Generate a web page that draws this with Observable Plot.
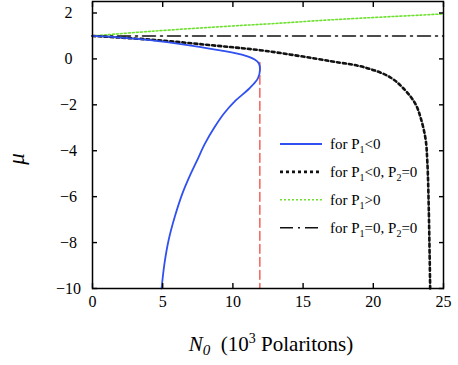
<!DOCTYPE html>
<html><head><meta charset="utf-8">
<script src="https://cdn.jsdelivr.net/npm/d3@7"></script>
<script src="https://cdn.jsdelivr.net/npm/@observablehq/plot@0.6"></script>
<style>
html,body{margin:0;padding:0;background:#fff;}
#chart{position:relative;width:458px;height:365px;}
#chart svg text{font-family:'Liberation Serif','Times New Roman',serif;}
</style></head>
<body><div id="chart"></div>
<script>
// ---- data ----
const xTicks = [0, 5, 10, 15, 20, 25];
const yTicks = [2, 0, -2, -4, -6, -8, -10];

// for P1<0 (solid blue), ordered along the curve
const blueN  = [0, 2.0, 4.13, 6.9, 9.2, 10.87, 11.55, 11.85, 11.93, 11.78, 11.15, 10.2, 9.35, 8.7, 8.0, 7.45, 7.0, 6.40, 5.86, 5.42, 5.13, 4.92];
const blueMu = [1, 0.93, 0.82, 0.59, 0.36, 0.14, -0.03, -0.2, -0.45, -0.85, -1.30, -1.81, -2.39, -2.97, -3.70, -4.42, -5.0, -5.87, -6.88, -7.9, -8.9, -10];

// for P1<0, P2=0 (black dotted)
const blackN  = [0, 4.13, 8.4, 12.3, 16.95, 19.32, 21.2, 22.29, 23.0, 23.36, 23.72, 23.85, 23.95, 24.05];
const blackMu = [1, 0.84, 0.6, 0.35, -0.10, -0.36, -0.8, -1.38, -1.96, -2.54, -3.48, -4.5, -6.5, -10];

// for P1>0 (green dotted)
const greenN  = [0, 4.13, 9.83, 12.68, 16.95, 24.07, 25];
const greenMu = [1, 1.2, 1.43, 1.53, 1.70, 1.93, 1.96];

// for P1=0, P2=0 (dash-dot)
const flatN  = [0, 25];
const flatMu = [1, 1];

// red dashed vertical at the turning point
const redN  = [11.92, 11.92];
const redMu = [-0.15, -10];

const legendLabels = ["for P_1<0", "for P_1<0, P_2=0", "for P_1>0", "for P_1=0, P_2=0"];
const legendColors = ["#3050f0", "#111111", "#6ee030", "#111111"];
const legendDash   = [null, "3,3", "2,2", "13,5,2,5"];
const legendWidth  = [1.8, 2.6, 1.6, 1.5];

const toRows = (N, M) => N.map((n, i) => ({N: n, mu: M[i]}));
const blue = toRows(blueN, blueMu);
const black = toRows(blackN, blackMu);
const green = toRows(greenN, greenMu);
const flat = toRows(flatN, flatMu);
const red = toRows(redN, redMu);

const font = "'Liberation Serif','Times New Roman',serif";

const plot = Plot.plot({
  width: 458, height: 365,
  marginLeft: 92, marginRight: 15, marginTop: 1, marginBottom: 77,
  style: {fontFamily: font, background: "#fff"},
  x: {domain: [0, 25]},
  y: {domain: [-10, 2.5]},
  marks: [
    Plot.line(flat, {x: "N", y: "mu", stroke: legendColors[3], strokeWidth: legendWidth[3], strokeDasharray: legendDash[3]}),
    Plot.line(green, {x: "N", y: "mu", stroke: legendColors[2], strokeWidth: legendWidth[2], strokeDasharray: legendDash[2], curve: "catmull-rom"}),
    Plot.line(black, {x: "N", y: "mu", stroke: legendColors[1], strokeWidth: legendWidth[1], strokeDasharray: legendDash[1], curve: "catmull-rom"}),
    Plot.line(red, {x: "N", y: "mu", stroke: "#f04a40", strokeWidth: 1.3, strokeDasharray: "9,4"}),
    Plot.line(blue, {x: "N", y: "mu", stroke: legendColors[0], strokeWidth: legendWidth[0], curve: "catmull-rom"}),
    // tick labels
    Plot.axisX(xTicks, {anchor: "bottom", tickSize: 0, tickPadding: 7, fontSize: 16, fontFamily: font, label: null, fill: "#000"}),
    Plot.axisY(yTicks, {anchor: "left", tickSize: 0, tickPadding: 24, textAnchor: "middle", fontSize: 16, fontFamily: font, label: null, fill: "#000"}),
    // inward ticks on all four sides
    Plot.axisX(xTicks, {anchor: "bottom", tickSize: -5, tickFormat: () => "", label: null, strokeWidth: 1.4}),
    Plot.axisX(xTicks, {anchor: "top", tickSize: -5, tickFormat: () => "", label: null, strokeWidth: 1.4}),
    Plot.axisY(yTicks, {anchor: "left", tickSize: -5, tickFormat: () => "", label: null, strokeWidth: 1.4}),
    Plot.axisY(yTicks, {anchor: "right", tickSize: -5, tickFormat: () => "", label: null, strokeWidth: 1.4}),
    Plot.frame({stroke: "#000", strokeWidth: 1.5})
  ]
});
document.getElementById("chart").appendChild(plot);

// ---- legend & axis titles (added into the same svg) ----
const svg = d3.select(plot);
const g = svg.append("g").attr("font-family", font).attr("fill", "#000").attr("text-anchor", "start");

function addRich(sel, str, subSize) {
  // "_x" -> subscript x
  const parts = str.split(/(_.)/).filter(p => p);
  let pending = 0;
  parts.forEach(p => {
    if (p[0] === "_") {
      sel.append("tspan").attr("font-size", subSize).attr("dy", pending + 4).text(p[1]);
      pending = -4;
    } else {
      sel.append("tspan").attr("dy", pending).text(p);
      pending = 0;
    }
  });
}

const legY0 = 144, legStep = 27.9;
legendLabels.forEach((lab, i) => {
  const y = legY0 + i * legStep;
  g.append("line").attr("x1", 280).attr("x2", 322).attr("y1", y).attr("y2", y)
    .attr("stroke", legendColors[i]).attr("stroke-width", legendWidth[i])
    .attr("stroke-dasharray", legendDash[i]);
  const t = g.append("text").attr("x", 330).attr("y", y + 5).attr("font-size", 15).attr("text-anchor", "start");
  addRich(t, lab, 10);
});

// x axis title: N_0 (10^3 Polaritons)
const xt = g.append("text").attr("x", 271).attr("y", 351).attr("text-anchor", "middle").attr("font-size", 21);
xt.append("tspan").attr("font-style", "italic").text("N");
xt.append("tspan").attr("font-style", "italic").attr("font-size", 15).attr("dy", 4).text("0");
xt.append("tspan").attr("dy", -4).text("\u2002(10");
xt.append("tspan").attr("font-size", 14).attr("dy", -8).text("3");
xt.append("tspan").attr("dy", 8).text(" Polaritons)");

// y axis title: mu
g.append("text").attr("transform", "translate(24,159) rotate(-90)")
  .attr("text-anchor", "middle").attr("font-size", 23).attr("font-style", "italic").text("\u03bc");
</script>
</body></html>
